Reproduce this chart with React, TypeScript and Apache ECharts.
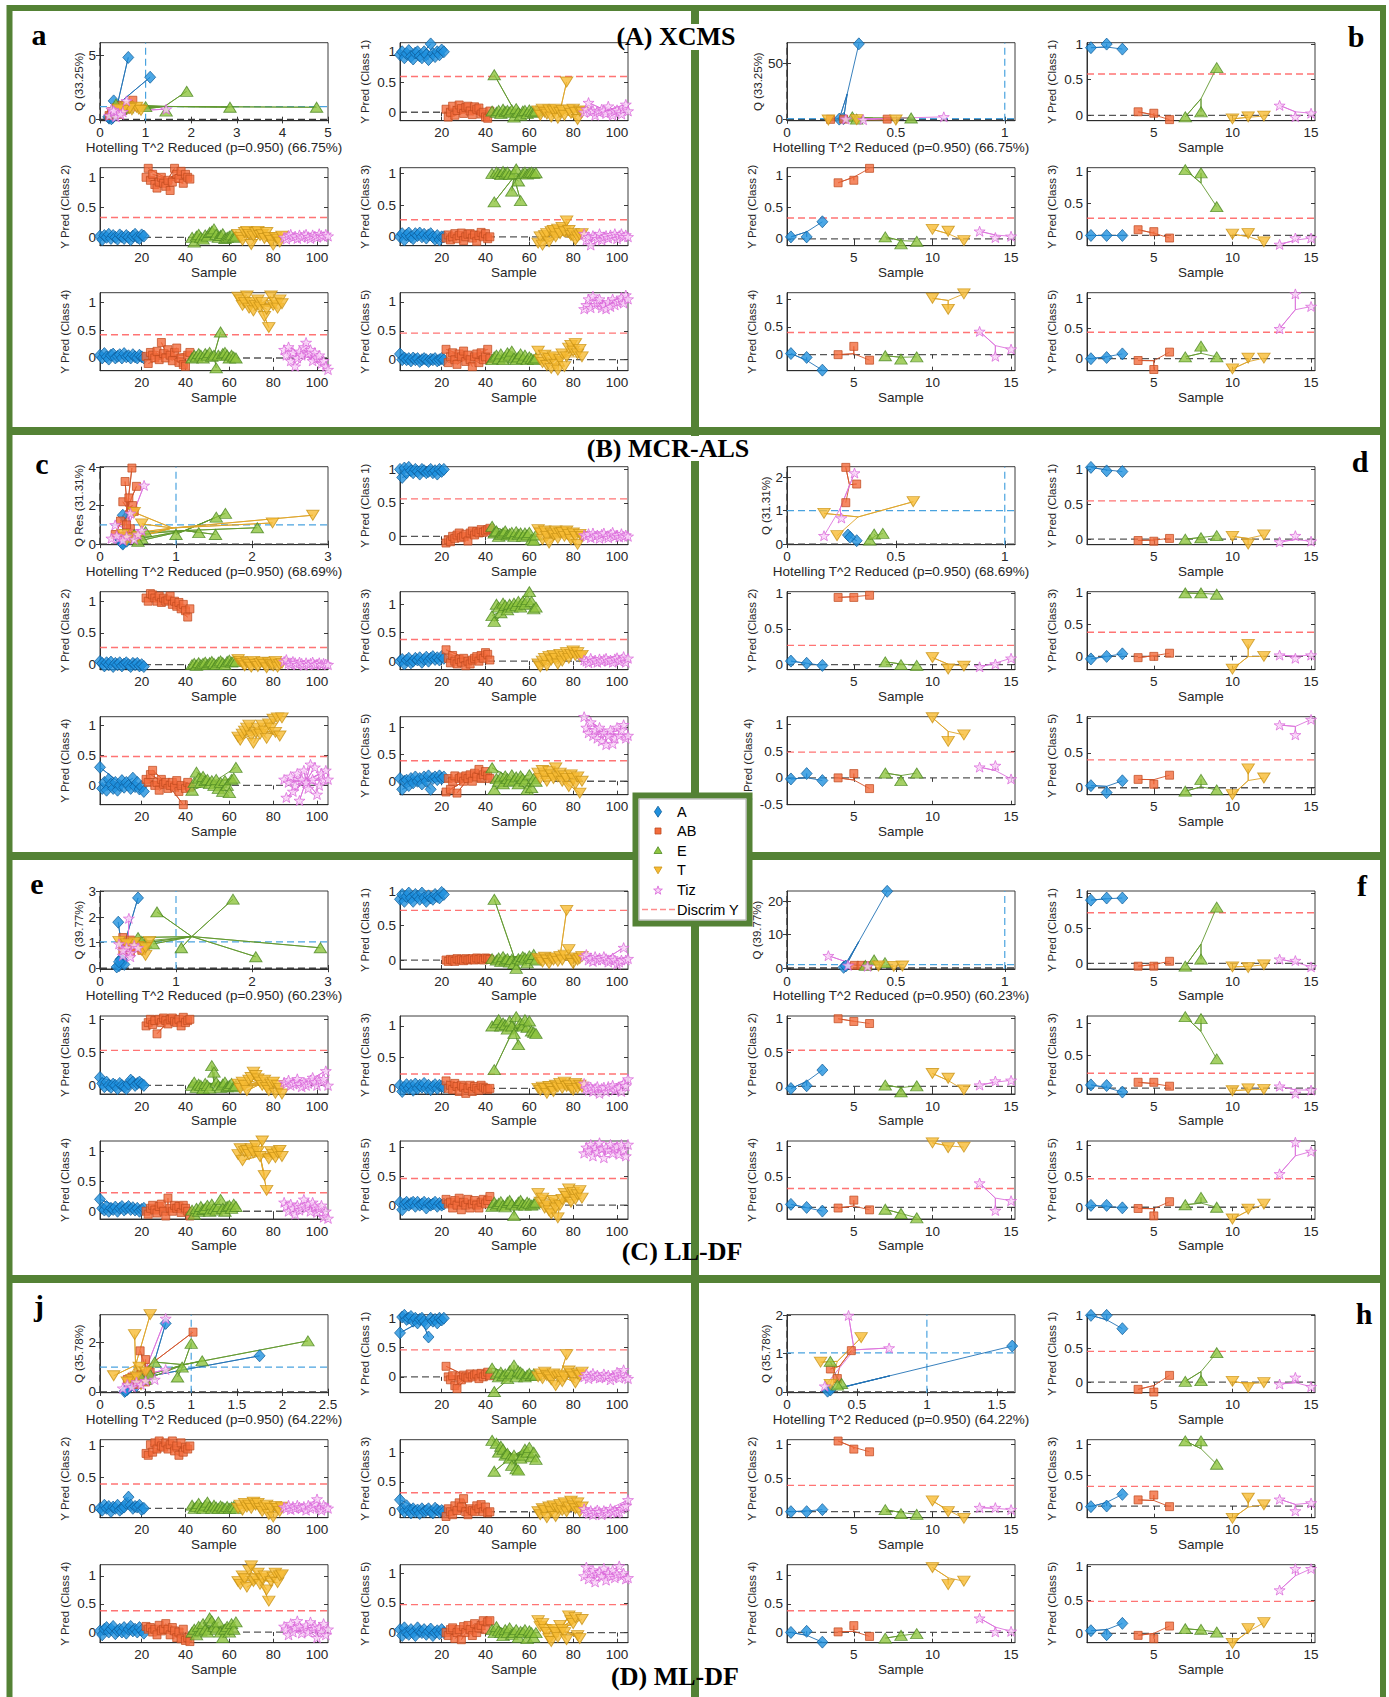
import React, { useEffect, useRef } from "react";
import * as echarts from "echarts";

// ---------------- categories / ticks ----------------
const CLASS_NAMES = ["A", "AB", "E", "T", "Tiz"];
const CLASS_Y_NAMES = ["Y Pred (Class 1)", "Y Pred (Class 2)", "Y Pred (Class 3)", "Y Pred (Class 4)", "Y Pred (Class 5)"];
const LEFT_X_TICKS = [20, 40, 60, 80, 100];
const RIGHT_X_TICKS = [5, 10, 15];
const CLASS_Y_TICKS = [-0.5, 0, 0.5, 1];
const LEFT_X_RANGE = [1, 105];
const RIGHT_X_RANGE = [0.75, 15.25];
const RIGHT_GROUP = 3;
const T2_LIMIT = 1;
const PANEL_TITLES = ["(A) XCMS", "(B) MCR-ALS", "(C) LL-DF", "(D) ML-DF"];
const LEGEND_LABELS = ["A", "AB", "E", "T", "Tiz", "Discrim Y"];

// ---------------- (A) XCMS ----------------
const xcmsL1 = [
  [.95,1,.9,.97,1.02,.92,.88,.98,1,.93,.9,1,.95,.87,1.13,.97,.92,1,.95,1.03,1],
  [.05,-.08,0,.1,-.05,.03,.12,.06,-.02,.08,.1,.02,-.04,.09,.05,.07,-.03,0,-.08,-.1,.02],
  [.02,.62,0,.03,-.02,.05,.01,.03,0,.04,-.08,.06,0,-.05,.02,.03,-.02,.04,.01,0,.02],
  [.02,-.05,.05,0,-.03,.04,-.08,.02,.05,-.1,0,.03,-.05,.5,.04,-.02,.05,0,-.12,.02,0],
  [0,.05,.16,0,.03,-.05,.02,0,.05,.03,-.02,.1,0,-.05,.02,.04,0,-.03,.05,.13,.02],
];
const xcmsL2 = [
  [.02,-.04,.03,0,.05,-.02,.03,0,-.03,.04,.01,-.02,.03,0,-.04,.02,.05,0,-.02,.04,.02],
  [1,1.15,.95,1.05,.88,.82,.92,1,.9,.85,.95,.78,.92,1.15,1.05,.98,1.1,.9,1.05,1,.97],
  [0,-.08,.02,.05,0,-.03,.04,.02,.08,.1,.14,.05,0,.03,.06,-.02,0,.02,.04,0,.02],
  [.05,0,-.05,.08,.1,.05,-.12,.02,.08,.1,.03,.05,-.02,.08,0,-.05,-.13,0,-.03,-.08,.02],
  [0,-.03,.03,.05,0,.02,-.02,.04,0,.03,.05,.01,-.02,.04,.02,0,.06,.03,.01,.05,.02],
];
const xcmsL3 = [
  [0,.05,-.05,.03,.06,0,-.03,.05,.02,.06,0,.04,-.02,.03,.05,0,-.04,.02,-.05,0,0],
  [-.02,.03,-.05,0,.05,-.03,.02,.06,-.06,0,.04,.05,-.02,.03,-.07,.02,.07,0,.05,-.03,0],
  [1,.55,1.02,1,.98,1.03,1,1.02,.98,.72,1,1.07,.88,.57,1,1.02,.99,1.01,1.02,1,1.01],
  [-.1,0,-.13,.02,.05,-.08,.08,.1,0,.12,.05,.15,.08,.25,.1,.02,.05,-.05,0,.03,.05],
  [.05,-.05,0,-.13,.02,0,-.03,.05,-.05,0,.02,-.02,.03,0,.05,-.03,.02,.05,0,.03,0],
];
const xcmsL4 = [
  [.05,0,.08,.02,-.02,.05,.07,0,.03,.06,0,.08,.02,.04,0,.06,.02,0,.05,.02,0],
  [.03,-.1,.1,.05,0,.12,-.03,.28,.08,0,.15,.05,-.05,.1,.18,-.08,0,-.12,-.15,.05,.1],
  [0,.05,.02,.08,.05,0,.08,.05,.1,.03,.05,-.18,.05,.47,.08,.1,.05,0,.05,.02,0],
  [1.1,1.05,.95,1,1.12,.9,1,.85,.95,1.05,.92,1,.75,.88,.55,1.12,.95,1,.9,1.05,.98],
  [.15,.05,.2,-.05,.1,-.15,0,.12,.05,.2,.28,.08,.15,-.05,.1,0,.05,-.1,-.05,-.15,-.21],
];
const xcmsL5 = [
  [.1,0,.03,0,.02,-.02,.03,0,.02,-.03,0,.02,0,-.03,.01,0,.02,-.02,0,.02,0],
  [.18,-.05,.05,.12,0,-.08,.1,.05,.15,-.03,.08,0,-.12,.05,.1,-.05,.12,0,.05,.18,.02],
  [0,.05,.08,.02,.1,0,.05,.12,.08,.15,.03,0,.05,.1,.02,.08,0,.05,.02,0,.03],
  [.15,0,-.05,.08,-.1,.02,-.15,.05,-.08,-.18,0,.1,-.12,.05,.2,.25,.15,.28,.1,.18,.05],
  [.88,.95,1.05,.9,1.1,.95,1,1.05,.9,.95,.88,1,.92,1.05,.95,1,1.02,1.08,.98,1.12,1.05],
];
const xcmsLQ = [
  [[.62,4.85],[1.1,3.3],[.3,1.45],[.2,.1],[.22,.3],[.25,.05],[.3,.5],[.18,.2],[.28,.15],[.35,.6]],
  [[.72,1.5],[.25,.6],[.35,.9],[.45,1.1],[.3,.5],[.55,.8],[.4,.4],[.2,.3],[.5,.7],[.6,1]],
  [[1.9,2.2],[2.85,.95],[4.75,.95],[1.45,.65],[1,1],[.35,1.2],[.45,.8],[.6,.9],[.3,.5],[.5,1]],
  [[.55,.9],[.7,.75],[.85,.8],[.6,1],[.45,.6],[.8,.95],[.65,.85],[.5,.7],[.9,.7],[.4,.8]],
  [[.58,1.45],[1.45,.8],[.2,.3],[.3,.6],[.4,.5],[.25,.8],[.35,.2],[.5,.6],[.45,.4],[.3,.7]],
];
const xcmsR1 = [.95,1,.93, .05,.03,-.06, -.02,.05,.67, -.05,-.02,-.01, .14,-.02,.03];
const xcmsR2 = [.03,.03,.27, .89,.93,1.12, .03,-.08,-.04, .15,.12,-.03, .12,.02,.04];
const xcmsR3 = [0,0,0, .09,.06,-.04, 1.03,.98,.45, .02,.03,-.1, -.14,-.04,-.04];
const xcmsR4 = [.02,-.05,-.28, 0,.15,-.1, -.02,-.08,-.04, 1.02,.82,1.1, .42,-.03,.1];
const xcmsR5 = [0,.02,.08, -.03,-.18,.11, .03,.21,.03, -.17,.01,.01, .5,1.08,.87];
const xcmsRQ = [
  [[.24,.5],[.26,1],[.33,67]],
  [[.2,.3],[.26,.5],[.46,.5]],
  [[.3,2.5],[.57,1.5],[.32,.5]],
  [[.19,-.3],[.32,0],[.5,-.3]],
  [[.27,.5],[.35,0],[.72,2.5]],
];
const xcmsLThr = [.59, .33, .27, .42, .46];
const xcmsRThr = [.58, .33, .27, .40, .44];
const xcmsLYLim = [[-.14, 1.15], [-.14, 1.16], [-.14, 1.09], [-.23, 1.18], [-.19, 1.16]];
const xcmsRYLim = [[-.075, 1.02], [-.11, 1.13], [-.16, 1.06], [-.29, 1.12], [-.2, 1.1]];

// ---------------- (B) MCR-ALS ----------------
const mcrL1 = [
  [1,.88,1.02,.95,1.03,.98,.95,1,.97,.93,1,.98,.95,.97,1,.95,.98,.93,1,.97,1],
  [-.1,-.05,-.08,0,-.03,.02,.05,-.02,0,.03,-.07,.05,.08,.02,.07,.05,.1,.06,.08,.1,.12],
  [.15,.05,.08,0,.03,.05,.08,.02,.04,.06,0,.07,.03,.05,0,.05,.02,.06,-.05,-.06,.02],
  [.1,.05,-.05,.08,0,-.1,.05,.02,.08,-.03,.05,.06,0,.08,.03,-.05,.05,0,-.12,.03,0],
  [.02,0,.04,-.02,.05,0,.02,-.03,.03,.05,0,-.02,.03,.06,0,.02,-.01,.04,0,.02,0],
];
const mcrL2 = [
  [.05,.02,-.02,.03,0,.04,-.03,.02,0,.03,-.02,.01,.03,0,-.03,.02,0,.02,-.02,0,-.03],
  [1.05,1,1.12,1.1,1.05,1,1.08,.98,1.05,1,1.02,1.08,.95,1,.92,.98,.88,.95,.85,.75,.88],
  [0,.02,-.01,.03,0,.02,.04,0,.03,.05,.02,0,.04,.06,.03,0,.05,.07,.04,.06,.05],
  [.08,.05,.02,-.02,.03,0,-.04,.05,0,-.03,.02,.04,0,-.05,.03,0,-.02,.05,-.04,0,.02],
  [.05,.08,.02,0,.05,.03,0,.04,.02,-.01,.03,0,.02,.04,0,.01,.03,0,.02,.01,0],
];
const mcrL3 = [
  [0,.03,-.05,.02,.05,-.03,0,.05,.02,.06,-.02,.03,.07,0,.05,.08,.03,.06,.02,.08,.05],
  [.2,.05,-.03,.1,0,-.05,.03,-.02,.05,-.08,0,-.05,.02,.05,.08,0,.1,.05,.15,.12,.02],
  [.8,.7,1,.95,.85,1.02,.98,.9,1,.95,1.02,.98,1.05,.95,1.05,1,1.08,1.22,1.05,.92,.95],
  [-.05,-.1,0,.05,-.08,.08,.02,.1,.05,-.05,.12,0,.08,.15,.05,.12,.18,.1,.15,.08,.1],
  [.02,0,-.03,.05,0,.02,-.02,.04,0,.03,.05,0,.02,-.02,.04,.06,0,.03,.08,-.02,.05],
];
const mcrL4 = [
  [.3,-.05,.05,-.08,.1,.02,-.05,.05,-.08,0,.08,-.03,.05,0,-.05,.12,-.02,.05,-.06,-.02,-.1],
  [.1,.05,.18,.25,0,.05,-.08,.1,.02,.05,-.05,0,.05,-.03,.08,-.1,0,-.32,-.05,.05,-.03],
  [-.08,.05,.22,.12,.05,.15,.08,.1,.03,.08,0,.1,-.05,.05,-.1,.08,0,-.12,.1,.12,.3],
  [.8,.75,.85,.9,.95,1,.82,.7,.88,.95,.85,1,.9,.78,1.02,.95,1.1,.88,1.12,.82,1.12],
  [.1,-.2,.05,.15,-.1,0,.2,-.25,.1,.25,.05,-.05,.35,.1,.3,-.15,0,.2,.1,.25,.1],
];
const mcrL5 = [
  [.05,-.15,0,.02,-.08,.05,-.03,.08,0,.05,-.05,.08,0,.1,-.15,.05,.08,.03,.1,.05,.08],
  [-.2,.05,-.15,0,.1,-.22,.05,.08,0,.1,.05,.12,0,.15,.08,.22,.05,.12,.18,.1,.05],
  [.25,-.15,.05,0,.08,-.05,.1,.05,0,.12,.02,.08,-.05,.1,.05,0,-.15,.12,-.12,.05,0],
  [.15,.05,.2,.1,0,.18,.12,.05,.25,.08,.15,0,.1,.05,-.1,.12,.05,-.05,.08,-.22,0],
  [1.2,1,.9,1.1,.85,.95,.8,1,.75,.9,.68,.85,.95,.7,.8,1,.85,.95,1.05,.8,.85],
];
const mcrLQ = [
  [[.3,1.5],[.3,.05],[.28,.1],[.32,.2],[.25,.3],[.3,0],[.35,.15],[.27,.25]],
  [[.42,3.95],[.33,3.25],[.3,2.2],[.38,2.4],[.48,3],[.43,2],[.27,1.2],[.4,.8],[.35,1],[.2,.5],[.3,.4],[.45,1.7]],
  [[1.65,1.6],[1.53,1.4],[2.07,.85],[1.3,.6],[1.52,.5],[1,.5],[.55,.3],[.45,.5],[.5,.15],[.6,.65]],
  [[2.8,1.5],[2.27,1.1],[.55,1.05],[.45,1.65],[.4,.3],[.3,.5],[.5,.4],[.35,.2]],
  [[.58,3.05],[.4,1.6],[.2,1],[.55,.7],[.25,.3],[.15,.3],[.35,.4],[.45,.25],[.3,.2],[.5,.5],[.22,.45]],
];
const mcrR1 = [1.03,.98,.97, -.02,-.03,.01, 0,.02,.05, .04,-.07,.06, -.04,.05,-.03];
const mcrR2 = [.05,.02,-.01, .94,.94,.97, .04,0,-.01, .1,-.06,-.02, -.03,.01,.09];
const mcrR3 = [-.04,0,.04, -.02,0,.05, 1,1,.98, -.2,.19,0, .02,-.03,.02];
const mcrR4 = [-.02,.08,-.05, 0,.08,-.2, .09,-.05,.09, 1.12,.68,.8, .2,.23,-.02];
const mcrR5 = [.03,-.07,.1, .12,.05,.18, -.05,.12,-.03, -.1,.27,.14, .9,.76,.98];
const mcrRQ = [
  [[.28,.27],[.32,.1],[.29,.2]],
  [[.27,2.3],[.32,1.8],[.27,1.24]],
  [[.38,.12],[.4,.3],[.44,.32]],
  [[.17,.92],[.58,1.27],[.23,.25]],
  [[.31,2.13],[.25,.78],[.17,.25]],
];
const mcrLThr = [.56, .27, .38, .48, .38];
const mcrRThr = [.55, .27, .38, .48, .40];
const mcrLYLim = [[-.125, 1.04], [-.08, 1.15], [-.15, 1.22], [-.32, 1.14], [-.25, 1.2]];
const mcrRYLim = [[-.08, 1.04], [-.07, 1.02], [-.21, 1.02], [-.5, 1.14], [-.1, 1.02]];

// ---------------- (C) LL-DF ----------------
const lldfL1 = [
  [.88,.95,.85,.92,.97,.9,.85,.95,.92,.88,.97,.9,.85,.93,.9,.88,.95,.92,.9,.98,.95],
  [0,-.02,.01,0,-.02,.02,0,.01,-.01,.02,0,.01,.02,0,.03,.01,.02,0,.03,.02,.01],
  [.02,.88,0,.03,-.02,.05,0,.02,-.03,.01,-.05,-.12,.02,0,.05,.03,-.04,.06,.02,.08,0],
  [.02,0,-.03,.04,0,-.05,.02,0,.03,-.02,.05,0,.07,.72,.15,0,-.05,.03,0,.02,.05],
  [.05,.08,0,.03,-.02,.05,0,.03,0,.05,.02,-.03,0,.03,0,-.06,-.03,0,.18,0,.02],
];
const lldfL2 = [
  [.12,.03,-.02,.05,0,-.03,.02,0,-.05,.03,0,-.02,-.05,.02,.08,.05,0,.03,.05,.02,0],
  [.9,.95,1,.92,.98,.78,1,.95,1.02,.98,.93,1,1.02,.97,.95,1,.9,1.03,.95,.98,1],
  [0,.05,-.03,.02,0,-.05,.03,0,-.04,.3,.2,.05,0,-.03,.02,.05,-.02,0,.03,-.02,0],
  [.02,-.05,.05,0,-.08,.08,.12,.2,.15,.1,.05,0,.08,-.03,-.08,.02,.05,-.12,0,-.05,-.13],
  [.05,.03,.08,0,.03,.05,.1,.02,-.02,.05,0,.03,.08,.12,.05,0,.08,.05,.1,.22,0],
];
const lldfL3 = [
  [.05,-.05,.02,.06,0,.05,-.03,.07,0,.05,.02,.08,0,.05,-.02,.03,.06,0,.05,.03,.02],
  [.12,0,.05,-.02,.08,.03,-.05,.05,.02,-.08,0,.05,-.05,.03,0,-.03,.05,.02,0,-.02,0],
  [1,.3,1.05,1.1,1,1.05,1.02,.95,1.08,1,.88,1.15,.7,1.05,1,1.1,.98,1.08,.92,.9,.88],
  [0,-.03,.02,0,-.08,.03,0,-.05,.05,.02,.08,0,.1,.03,.05,0,-.03,.08,0,.05,.02],
  [.08,0,-.03,.02,-.05,0,.03,-.08,0,.02,-.05,.03,0,.05,-.03,0,.02,-.05,.08,.04,.15],
];
const lldfL4 = [
  [.2,.05,.02,.08,0,.05,.03,.07,0,.05,.08,.02,.05,.08,.03,.06,.02,.05,0,.03,.05],
  [0,-.05,.05,.1,.02,-.03,.08,.12,0,-.08,.22,.05,0,.1,.05,.08,-.02,.1,.05,0,-.08],
  [.02,-.05,.05,0,.08,.03,.05,.1,0,.12,.05,.02,.08,.2,.05,0,.08,.1,.05,.12,.08],
  [.95,1.05,.85,1,1.02,.95,1.05,.98,1.1,1,.92,1.18,.6,.35,.88,1,.95,.9,.98,1.02,.92],
  [.15,.08,0,.12,.05,-.05,.1,.02,.08,.2,.05,.12,0,.15,.08,-.02,.05,.1,-.1,0,-.12],
];
const lldfL5 = [
  [.05,-.08,.02,.05,0,.03,.05,-.02,.05,0,.02,.05,-.05,.03,0,.02,.05,-.02,.03,0,.02],
  [.1,.02,.05,-.05,.08,0,.12,-.08,.05,0,.1,-.05,.02,.08,0,-.05,.05,.1,.02,.08,.15],
  [-.02,.05,0,.03,.06,0,-.03,.05,.08,.02,-.18,0,.05,.08,.02,0,.05,.03,0,.02,.05],
  [.2,.05,.12,-.05,0,-.1,-.15,.08,-.05,-.22,0,.1,.2,.15,.28,.05,.22,.1,.18,.25,.12],
  [.9,1,.95,1.05,.85,1,.92,1.08,.98,.82,1,.95,1.05,.9,.98,1.02,.88,1.05,.95,.85,1.05],
];
const lldfLQ = [
  [[.5,2.75],[.24,1.8],[.25,.1],[.28,.2],[.3,.3],[.22,.05],[.27,.35],[.32,.15],[.25,.25]],
  [[.3,1.2],[.4,.6],[.35,.9],[.5,1],[.45,.8],[.55,.7],[.3,.7],[.6,.9],[.4,1.1]],
  [[1.75,2.7],[.75,2.2],[2.05,.45],[2.9,.8],[1.07,.8],[.5,1.2],[.6,1],[.7,.95],[.55,1.05]],
  [[.65,1.05],[.6,.5],[.55,.7],[.25,1.05],[.4,.9],[.5,.85],[.45,1],[.35,.95],[.6,.8]],
  [[.38,1.95],[.3,.5],[.35,.8],[.4,.6],[.45,.9],[.3,.7],[.5,.8],[.25,.95],[.4,.45]],
];
const lldfR1 = [.9,.93,.93, -.04,-.04,.03, -.04,.06,.8, -.05,-.06,-.02, .06,.04,-.05];
const lldfR2 = [-.03,.01,.24, .99,.95,.92, .02,-.08,.01, .19,.12,-.05, .02,.08,.09];
const lldfR3 = [.05,.04,-.06, .09,.09,.03, 1.1,1.07,.45, -.04,-.01,-.02, .03,-.08,-.03];
const lldfR4 = [.05,0,-.06, -.01,.12,-.04, -.03,-.1,-.17, 1.06,.98,.99, .4,-.05,.11];
const lldfR5 = [.03,.03,-.01, -.02,-.14,.09, .04,.16,0, -.19,-.03,.05, .54,1.05,.9];
const lldfRQ = [
  [[.26,.2],[.27,.6],[.46,23]],
  [[.31,.8],[.34,.8],[.37,.7]],
  [[.4,2.4],[.45,1.6],[.36,.8]],
  [[.42,.6],[.49,.5],[.53,.6]],
  [[.19,3.7],[.28,.8],[.37,.5]],
];
const lldfLThr = [.72, .53, .23, .31, .46];
const lldfRThr = [.72, .53, .23, .31, .46];
const lldfLYLim = [[-.13, 1.0], [-.13, 1.05], [-.09, 1.16], [-.13, 1.18], [-.24, 1.11]];
const lldfRYLim = [[-.08, 1.03], [-.11, 1.03], [-.09, 1.11], [-.19, 1.09], [-.19, 1.07]];

// ---------------- (D) ML-DF ----------------
const mldfL1 = [
  [.75,1.02,1.05,.98,1,1.03,.95,1,.92,.98,1,.95,.9,.68,1,.95,.98,.92,1,.97,1],
  [.18,0,-.05,.02,-.15,-.2,0,-.05,.03,0,-.02,.05,0,.03,.05,-.03,.06,0,.04,.08,.02],
  [.15,-.25,.05,0,.08,.02,.05,-.03,.1,.05,.2,0,.1,.08,.05,0,.03,.06,.02,.05,.03],
  [0,.05,-.03,.08,.02,0,-.05,.05,-.15,0,.03,-.08,0,.38,.1,.05,0,-.1,.05,.02,.08],
  [0,.05,-.03,.02,.06,0,.03,-.02,0,.05,0,.03,-.05,0,.02,.08,-.02,.05,.12,0,-.03],
];
const mldfL2 = [
  [0,-.03,.05,0,.03,-.05,.02,0,.05,-.03,0,.02,.08,.18,.05,0,.03,.02,.05,-.02,0],
  [.88,.85,1.02,.9,1.05,.95,1.08,1,.98,1.05,.95,1.02,1.08,.92,1,.85,1.05,.9,.98,.95,1],
  [.05,0,.03,.08,.02,0,.05,.1,.03,0,.05,.02,0,.04,.02,0,.03,0,.02,.03,0],
  [0,.05,-.03,.08,.02,.05,0,.1,.05,.08,0,-.05,.02,.05,-.1,0,-.14,.03,0,-.05,.02],
  [.02,0,.05,-.02,.03,0,.05,.02,0,.03,-.03,.05,0,.02,.08,.15,0,-.03,.05,.02,0],
];
const mldfL3 = [
  [.2,.05,0,.1,.02,-.02,.05,0,.03,-.03,.05,0,.02,.05,0,-.02,.06,.03,0,.02,0],
  [-.08,.05,0,-.05,.1,.02,.15,.08,.22,0,-.05,.05,.02,0,.1,.05,.12,0,.08,-.02,0],
  [1.2,.68,1.15,1,1.1,1.05,.95,.98,.9,.78,.95,.72,.7,.9,.95,1.05,1,1.08,.92,1,.88],
  [0,-.05,.05,.02,-.1,.08,0,.1,-.08,.05,.12,.02,.15,0,.08,.18,.1,.05,.15,0,.08],
  [.05,0,-.03,.02,-.05,0,.03,0,-.05,.02,0,-.03,.05,0,.02,-.02,0,.05,.08,.1,.2],
];
const mldfL4 = [
  [.02,-.05,.05,.08,0,.05,.1,-.03,.02,.05,0,.08,-.02,.05,.1,.02,.05,0,.08,.03,-.02],
  [.1,.05,.08,0,.05,-.05,.12,.02,.05,.15,.05,-.05,.08,.02,-.1,0,-.12,.05,-.15,-.1,-.17],
  [0,.05,-.05,.1,.02,.15,.05,0,.25,.2,.1,.05,.18,0,-.1,.05,.1,0,.15,.05,.18],
  [.9,.85,1,.95,.8,1.1,1.18,.9,.95,1.05,.85,.95,1,.75,.55,.9,.98,1.05,.88,1,1.02],
  [.1,.05,-.05,.15,0,.08,.2,.1,-.02,.05,.12,0,.18,.05,.1,-.1,.08,0,.15,-.05,.05],
];
const mldfL5 = [
  [.05,-.05,.08,0,-.03,.05,0,-.05,.08,.02,0,.05,-.03,.02,.06,-.05,0,.03,-.02,.05,0],
  [0,-.05,.05,.08,-.1,0,.05,-.12,.1,0,.12,.05,-.05,.15,0,.08,.12,.2,.05,.18,.2],
  [.05,0,.1,.03,0,-.05,.05,0,.08,-.03,0,.05,-.08,.02,0,.05,-.1,.03,0,-.08,0],
  [.2,.1,.15,.05,0,-.1,-.15,.05,0,-.08,.12,.05,0,-.12,.28,.2,.15,.25,-.05,-.1,.22],
  [.95,1.1,.9,1,1.05,.85,.98,1.02,.95,1.08,.88,1,.95,1.05,.92,.98,1.12,.95,1,.9,.92],
];
const mldfLQ = [
  [[.72,2.75],[1.75,1.45],[.27,.02],[.3,.1],[.33,.2],[.28,.05],[.35,.3],[.4,.25]],
  [[1.02,2.4],[.44,1.65],[.5,1.3],[.3,.5],[.35,.6],[.45,.7],[.5,.4],[.55,.8],[.4,.3]],
  [[2.28,2.05],[1,1.95],[1.12,1.25],[.6,1.2],[.85,.6],[.9,1],[.5,.5],[.55,.7],[.45,.6]],
  [[.55,3.1],[.38,2.3],[.15,.65],[.43,1],[.5,.8],[.35,.5],[.45,.3],[.4,.6],[.3,.4]],
  [[.72,2.95],[.72,.9],[.6,.5],[.3,.3],[.35,.2],[.4,.4],[.25,.15],[.45,.3],[.5,.45]],
];
const mldfR1 = [1,1,.8, -.11,-.15,.1, .01,.02,.44, .01,-.08,-.01, -.03,.07,-.07];
const mldfR2 = [0,0,.03, 1.05,.93,.89, .03,-.03,-.04, .16,0,-.1, .06,.06,.03];
const mldfR3 = [-.01,0,.19, .1,.18,-.01, 1.06,1.06,.68, -.2,.13,.02, .11,-.08,.05];
const mldfR4 = [0,.02,-.17, .01,.12,-.07, -.1,-.05,-.02, 1.14,.84,.9, .25,.01,.02];
const mldfR5 = [.04,-.02,.15, -.03,-.08,.11, .07,.06,.02, -.15,.07,.16, .65,.97,.97];
const mldfRQ = [
  [[.29,.02],[.31,.05],[1.61,1.2]],
  [[.46,1.08],[.31,.6],[.36,.35]],
  [[.31,.8],[.39,.22],[.36,.18]],
  [[.53,1.42],[.24,.78],[.31,.2]],
  [[.44,2],[.73,1.15],[.27,.15]],
];
const mldfLThr = [.46, .39, .32, .38, .47];
const mldfRThr = [.46, .39, .32, .38, .48];
const mldfLYLim = [[-.27, 1.06], [-.15, 1.1], [-.1, 1.21], [-.19, 1.2], [-.17, 1.14]];
const mldfRYLim = [[-.16, 1.01], [-.09, 1.07], [-.19, 1.08], [-.18, 1.19], [-.14, 1.03]];

// ---------------- panel descriptions ----------------
const PANELS = [
  { side: "L", row: 0, letter: "a", cls: [xcmsL1, xcmsL2, xcmsL3, xcmsL4, xcmsL5], thr: xcmsLThr, ylim: xcmsLYLim, q: xcmsLQ,
    qX: [0, 5], qY: [-0.1, 6], qXT: [0, 1, 2, 3, 4, 5], qYT: [0, 5], qLim: 1, qName: "Q (33.25%)", t2Name: "Hotelling T^2 Reduced (p=0.950) (66.75%)", qGap: 15 },
  { side: "R", row: 0, letter: "b", cls: [xcmsR1, xcmsR2, xcmsR3, xcmsR4, xcmsR5], thr: xcmsRThr, ylim: xcmsRYLim, q: xcmsRQ,
    qX: [0, 1.047], qY: [-0.9, 68], qXT: [0, 0.5, 1], qYT: [0, 50], qLim: 1, qName: "Q (33.25%)", t2Name: "Hotelling T^2 Reduced (p=0.950) (66.75%)", qGap: 23 },
  { side: "L", row: 1, letter: "c", cls: [mcrL1, mcrL2, mcrL3, mcrL4, mcrL5], thr: mcrLThr, ylim: mcrLYLim, q: mcrLQ, tall4: true,
    qX: [0, 3], qY: [-0.03, 4.02], qXT: [0, 1, 2, 3], qYT: [0, 2, 4], qLim: 1, qName: "Q Res (31.31%)", t2Name: "Hotelling T^2 Reduced (p=0.950) (68.69%)", qGap: 15 },
  { side: "R", row: 1, letter: "d", cls: [mcrR1, mcrR2, mcrR3, mcrR4, mcrR5], thr: mcrRThr, ylim: mcrRYLim, q: mcrRQ, tall4: true,
    qX: [0, 1.047], qY: [-0.02, 2.32], qXT: [0, 0.5, 1], qYT: [0, 1, 2], qLim: 1, qName: "Q (31.31%)", t2Name: "Hotelling T^2 Reduced (p=0.950) (68.69%)", qGap: 15 },
  { side: "L", row: 2, letter: "e", cls: [lldfL1, lldfL2, lldfL3, lldfL4, lldfL5], thr: lldfLThr, ylim: lldfLYLim, q: lldfLQ,
    qX: [0, 3], qY: [-0.03, 3.02], qXT: [0, 1, 2, 3], qYT: [0, 1, 2, 3], qLim: 1.03, qName: "Q (39.77%)", t2Name: "Hotelling T^2 Reduced (p=0.950) (60.23%)", qGap: 15 },
  { side: "R", row: 2, letter: "f", cls: [lldfR1, lldfR2, lldfR3, lldfR4, lldfR5], thr: lldfRThr, ylim: lldfRYLim, q: lldfRQ,
    qX: [0, 1.047], qY: [-0.3, 23.1], qXT: [0, 0.5, 1], qYT: [0, 10, 20], qLim: 1, qName: "Q (39.77%)", t2Name: "Hotelling T^2 Reduced (p=0.950) (60.23%)", qGap: 24 },
  { side: "L", row: 3, letter: "j", cls: [mldfL1, mldfL2, mldfL3, mldfL4, mldfL5], thr: mldfLThr, ylim: mldfLYLim, q: mldfLQ,
    qX: [0, 2.5], qY: [-0.03, 3.1], qXT: [0, 0.5, 1, 1.5, 2, 2.5], qYT: [0, 2], qLim: 1, qName: "Q (35.78%)", t2Name: "Hotelling T^2 Reduced (p=0.950) (64.22%)", qGap: 15 },
  { side: "R", row: 3, letter: "h", cls: [mldfR1, mldfR2, mldfR3, mldfR4, mldfR5], thr: mldfRThr, ylim: mldfRYLim, q: mldfRQ,
    qX: [0, 1.63], qY: [-0.02, 2.02], qXT: [0, 0.5, 1, 1.5], qYT: [0, 1, 2], qLim: 1.02, qName: "Q (35.78%)", t2Name: "Hotelling T^2 Reduced (p=0.950) (64.22%)", qGap: 15 },
];

// ---------------- styles & layout ----------------
const FILL = ["#1f91de", "#f26c3c", "#8fc43f", "#f7bb33", "#f9d3f7"];
const EDGE = ["#0d5a98", "#bf4a1f", "#4e8a23", "#c99316", "#d862d8"];
const LINE = ["#2373b6", "#d2532a", "#62992f", "#dea52a", "#dc74dc"];
const STAR = "path://M10,0L12.35,6.76L19.51,6.91L13.8,11.24L15.88,18.09L10,14L4.12,18.09L6.2,11.24L0.49,6.91L7.65,6.76Z";
const SYMBOLS = ["diamond", "rect", "triangle", "triangle", STAR];
const SIZES = [[11, 12], [8, 8], [12.5, 10], [12.5, 10], [11, 10]];
const ROTATE = [0, 0, 0, 180, 0];
const AX = "#262626";
const TXT = "#262626";
const FONT = "Liberation Sans";
const RED = "#ff5c5c";
const BLUE = "#4aa3df";
const ZERO = "#3a3a3a";
const GREEN = "#548235";
const DASH = [7, 4];

const PANEL_TOP = [42.7, 466.7, 891, 1314.7];
const ROW_OFF = [0, 125, 250];
const COLS_L = [100, 400];
const COLS_R = [787, 1087];
const BOX_W = 228;
const BOX_H = 78;
const TALL_H = 88;

function buildOption() {
  const grid: any[] = [];
  const xAxis: any[] = [];
  const yAxis: any[] = [];
  const xMirror: any[] = [];
  const yMirror: any[] = [];
  const series: any[] = [];

  const addAxes = (gi: number, xr: number[], yr: number[], xt: number[], yt: number[], xName: string, yName: string, yGap: number) => {
    xAxis.push({
      type: "value", gridIndex: gi, min: xr[0], max: xr[1],
      name: xName, nameLocation: "middle", nameGap: 19,
      nameTextStyle: { fontSize: 13.5, color: TXT, fontFamily: FONT },
      axisLine: { show: true, onZero: false, lineStyle: { color: AX, width: 0.9 } },
      axisTick: { show: true, inside: true, length: 4, customValues: xt, lineStyle: { color: AX, width: 0.9 } },
      axisLabel: { customValues: xt, fontSize: 13.5, color: TXT, fontFamily: FONT, margin: 5 },
      splitLine: { show: false },
    });
    yAxis.push({
      type: "value", gridIndex: gi, min: yr[0], max: yr[1],
      name: yName, nameLocation: "middle", nameGap: yGap,
      nameTextStyle: { fontSize: 11.5, color: TXT, fontFamily: FONT },
      axisLine: { show: true, onZero: false, lineStyle: { color: AX, width: 0.9 } },
      axisTick: { show: true, inside: true, length: 4, customValues: yt, lineStyle: { color: AX, width: 0.9 } },
      axisLabel: { customValues: yt, fontSize: 13.5, color: TXT, fontFamily: FONT, margin: 4 },
      splitLine: { show: false },
    });
    // mirrored inside ticks on the top and right edges of the box
    xMirror.push({
      type: "value", gridIndex: gi, min: xr[0], max: xr[1], position: "top",
      axisLine: { show: false }, axisLabel: { show: false }, splitLine: { show: false },
      axisTick: { show: true, inside: true, length: 4, customValues: xt, lineStyle: { color: AX, width: 0.9 } },
    });
    yMirror.push({
      type: "value", gridIndex: gi, min: yr[0], max: yr[1], position: "right",
      axisLine: { show: false }, axisLabel: { show: false }, splitLine: { show: false },
      axisTick: { show: true, inside: true, length: 4, customValues: yt, lineStyle: { color: AX, width: 0.9 } },
    });
  };

  const seg = (gi: number, pts: number[][], color: string, width: number, opacity = 1) => {
    series.push({
      type: "line", xAxisIndex: gi, yAxisIndex: gi, data: pts, symbol: "none", silent: true,
      lineStyle: { color, width, type: DASH, opacity }, z: 2,
    });
  };

  const classMarks = (gi: number, pts: number[][], k: number) => {
    const cx = pts.reduce((s, p) => s + p[0], 0) / pts.length;
    const cy = pts.reduce((s, p) => s + p[1], 0) / pts.length;
    const spokes: number[][] = [];
    pts.forEach((p) => { spokes.push([cx, cy]); spokes.push(p); });
    series.push({
      type: "line", xAxisIndex: gi, yAxisIndex: gi, data: spokes, symbol: "none", silent: true, clip: false,
      lineStyle: { color: LINE[k], width: 0.9 }, z: 2,
    });
    series.push({
      type: "scatter", name: CLASS_NAMES[k], xAxisIndex: gi, yAxisIndex: gi, data: pts, clip: false, silent: true,
      symbol: SYMBOLS[k], symbolSize: SIZES[k], symbolRotate: ROTATE[k],
      itemStyle: { color: FILL[k], borderColor: EDGE[k], borderWidth: 0.9 }, z: 2,
    });
  };

  PANELS.forEach((p: any) => {
    const cols = p.side === "L" ? COLS_L : COLS_R;
    const top0 = PANEL_TOP[p.row];
    for (let s = 0; s < 6; s++) {
      const r = Math.floor(s / 2);
      const c = s % 2;
      const h = p.tall4 && s === 4 ? TALL_H : BOX_H;
      const gi = grid.length;
      grid.push({ left: cols[c], top: top0 + ROW_OFF[r], width: BOX_W, height: h, show: true, borderColor: AX, borderWidth: 0.9, containLabel: false });
      if (s === 0) {
        addAxes(gi, p.qX, p.qY, p.qXT, p.qYT, p.t2Name, p.qName, p.qGap);
        seg(gi, [[p.qX[0], 0], [p.qX[1], 0]], ZERO, 1.3);
        seg(gi, [[0, p.qY[0]], [0, p.qY[1]]], ZERO, 1.3);
        seg(gi, [[T2_LIMIT, p.qY[0]], [T2_LIMIT, p.qY[1]]], BLUE, 1.2);
        seg(gi, [[p.qX[0], p.qLim], [p.qX[1], p.qLim]], BLUE, 1.2);
        p.q.forEach((pts: number[][], k: number) => classMarks(gi, pts, k));
      } else {
        const k = s - 1;
        const yr = p.ylim[k];
        const xr = p.side === "L" ? LEFT_X_RANGE : RIGHT_X_RANGE;
        const xt = p.side === "L" ? LEFT_X_TICKS : RIGHT_X_TICKS;
        const yt = CLASS_Y_TICKS.filter((v) => v >= yr[0] && v <= yr[1]);
        const yGap = yr[0] <= -0.5 ? 33 : 29;
        addAxes(gi, xr, yr, xt, yt, "Sample", CLASS_Y_NAMES[k], yGap);
        seg(gi, [[xr[0], 0], [xr[1], 0]], ZERO, 1.3, 0.85);
        seg(gi, [[xr[0], p.thr[k]], [xr[1], p.thr[k]]], RED, 1.4, 0.85);
        let groups: number[][];
        if (p.side === "L") groups = p.cls[k];
        else {
          groups = [];
          for (let g = 0; g < p.cls[k].length; g += RIGHT_GROUP) groups.push(p.cls[k].slice(g, g + RIGHT_GROUP));
        }
        let offset = 0;
        groups.forEach((vals, ci) => {
          const pts = vals.map((v, i) => [offset + i + 1, v]);
          offset += vals.length;
          classMarks(gi, pts, ci);
        });
      }
    }
  });

  // ---------- frame, titles, letters, legend ----------
  const graphic: any[] = [];
  const Z = 100;
  graphic.push({ type: "rect", silent: true, z: Z, shape: { x: 9.5, y: 8, width: 1373.5, height: 1700 }, style: { fill: "none", stroke: GREEN, lineWidth: 6 } });
  [431, 856, 1279].forEach((y) => graphic.push({ type: "line", silent: true, z: Z, shape: { x1: 9, y1: y, x2: 1383, y2: y }, style: { stroke: GREEN, lineWidth: 8 } }));
  graphic.push({ type: "line", silent: true, z: Z, shape: { x1: 695, y1: 8, x2: 695, y2: 1697 }, style: { stroke: GREEN, lineWidth: 8 } });

  // [centerX, centerY, white backing over the divider (y, h)]
  const titlePos = [[676, 36, 24, 26], [668, 448, 436, 25], [682, 1251, 0, 0], [675, 1676, 0, 0]];
  PANEL_TITLES.forEach((t, i) => {
    const [cx, cy, ry, rh] = titlePos[i];
    if (rh > 0) graphic.push({ type: "rect", silent: true, z: Z + 1, shape: { x: 689, y: ry, width: 12, height: rh }, style: { fill: "#fff" } });
    graphic.push({ type: "text", silent: true, z: Z + 2, x: cx, y: cy, style: { text: t, fill: "#000", fontSize: 26, fontWeight: "bold", fontFamily: "Liberation Serif", align: "center", verticalAlign: "middle" } });
  });
  const letterPos = [[39, 34.5], [1356, 36], [42, 463], [1360, 461], [37, 883], [1362, 885], [39, 1305], [1364, 1313]];
  PANELS.forEach((p: any, i: number) => {
    graphic.push({ type: "text", silent: true, z: Z + 2, x: letterPos[i][0], y: letterPos[i][1], style: { text: p.letter, fill: "#000", fontSize: 30, fontWeight: "bold", fontFamily: "Liberation Serif", align: "center", verticalAlign: "middle" } });
  });

  // legend box
  graphic.push({ type: "rect", silent: true, z: Z + 3, shape: { x: 635.5, y: 795.5, width: 114, height: 128 }, style: { fill: "#fff", stroke: GREEN, lineWidth: 6 } });
  graphic.push({ type: "rect", silent: true, z: Z + 4, shape: { x: 639, y: 799, width: 107, height: 121 }, style: { fill: "none", stroke: "#a8a8a8", lineWidth: 1 } });
  const rowsY = [811.7, 831, 850.5, 870, 890, 909.5];
  const mx = 658;
  const star = (cx: number, cy: number, rad: number) => {
    const pts: number[][] = [];
    for (let i = 0; i < 10; i++) {
      const a = -Math.PI / 2 + (i * Math.PI) / 5;
      const rr = i % 2 === 0 ? rad : rad * 0.4;
      pts.push([cx + rr * Math.cos(a), cy + rr * Math.sin(a)]);
    }
    return pts;
  };
  const glyphs: any[] = [
    { type: "polygon", shape: { points: [[mx, rowsY[0] - 5.5], [mx + 3.6, rowsY[0]], [mx, rowsY[0] + 5.5], [mx - 3.6, rowsY[0]]] } },
    { type: "rect", shape: { x: mx - 3, y: rowsY[1] - 3, width: 6, height: 6 } },
    { type: "polygon", shape: { points: [[mx, rowsY[2] - 3.8], [mx + 4, rowsY[2] + 3], [mx - 4, rowsY[2] + 3]] } },
    { type: "polygon", shape: { points: [[mx - 4, rowsY[3] - 3], [mx + 4, rowsY[3] - 3], [mx, rowsY[3] + 3.8]] } },
    { type: "polygon", shape: { points: star(mx, rowsY[4] + 0.5, 4.6) } },
  ];
  glyphs.forEach((g, k) => {
    graphic.push({ ...g, silent: true, z: Z + 5, style: { fill: FILL[k], stroke: EDGE[k], lineWidth: 0.8 } });
  });
  graphic.push({ type: "line", silent: true, z: Z + 5, shape: { x1: 642, y1: rowsY[5], x2: 675, y2: rowsY[5] }, style: { stroke: "#ff8c8c", lineWidth: 1.5, lineDash: [6, 3] } });
  LEGEND_LABELS.forEach((t, i) => {
    graphic.push({ type: "text", silent: true, z: Z + 5, x: 677, y: rowsY[i], style: { text: t, fill: "#000", fontSize: 14.5, fontFamily: FONT, align: "left", verticalAlign: "middle" } });
  });

  return {
    animation: false,
    backgroundColor: "#ffffff",
    textStyle: { fontFamily: FONT },
    grid,
    xAxis: xAxis.concat(xMirror),
    yAxis: yAxis.concat(yMirror),
    series,
    graphic,
  };
}

export default function App() {
  const ref = useRef<HTMLDivElement>(null);
  useEffect(() => {
    document.body.style.margin = "0";
    const chart = echarts.init(ref.current as HTMLDivElement, undefined, { renderer: "svg" });
    chart.setOption(buildOption() as any);
    return () => chart.dispose();
  }, []);
  return <div ref={ref} style={{ width: 1389, height: 1697 }} />;
}
